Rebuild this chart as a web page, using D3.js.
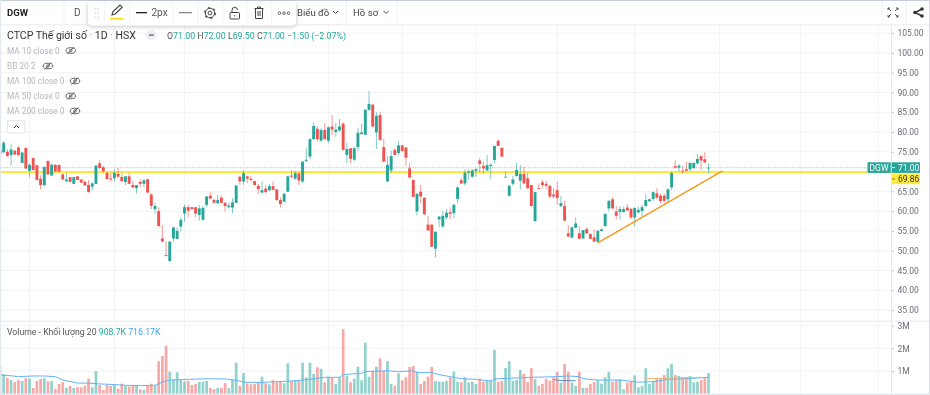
<!DOCTYPE html>
<html><head><meta charset="utf-8">
<script src="https://cdn.jsdelivr.net/npm/d3@7"></script>
<style>
html,body{margin:0;padding:0;background:#fff;overflow:hidden}
svg{display:block;filter:blur(.35px)}
text{font-family:Roboto,"Noto Sans",sans-serif}
</style></head><body><div id="c"></div>
<script>
const opens=[74.4,74.9,75.0,74.2,75.3,76.1,72.2,76.0,70.2,73.4,71.6,68.2,66.5,72.7,69.0,71.7,71.7,69.3,67.6,68.6,66.9,68.8,68.0,67.4,66.6,66.2,66.9,72.1,71.1,69.6,68.3,68.3,69.4,68.6,67.4,68.8,66.6,65.8,67.4,66.9,68.1,64.2,60.5,60.0,53.1,48.9,47.4,53.1,53.0,56.1,59.4,61.0,61.0,61.0,59.0,57.8,61.6,63.9,62.8,62.0,63.4,62.1,61.0,
60.9,62.1,68.7,67.5,68.8,68.2,67.6,66.4,64.7,65.7,65.3,66.3,65.5,62.8,62.4,64.9,69.0,68.2,69.5,67.5,72.7,73.8,78.2,80.8,77.8,80.5,77.8,81.4,80.0,80.4,82.1,74.2,75.9,73.0,76.2,79.5,79.3,85.6,86.9,79.9,84.3,76.2,67.5,70.3,75.5,74.7,76.6,76.1,70.8,67.9,59.9,64.9,63.4,
56.6,56.6,50.5,57.9,56.1,58.4,59.7,59.5,63.1,67.8,67.0,69.7,68.7,70.2,72.8,71.4,70.3,71.4,72.9,77.8,76.0,68.5,63.9,66.9,68.9,67.7,69.4,68.3,66.6,57.5,65.8,67.3,66.9,66.4,64.2,65.3,61.3,61.3,54.4,53.3,55.8,54.4,53.1,55.5,54.2,53.4,52.3,55.0,56.2,60.7,63.0,59.9,59.8,59.8,60.9,60.6,58.4,59.7,60.0,61.3,62.5,63.1,64.5,63.9,63.9,63.0,66.0,71.4,71.0,70.2,70.6,70.6,70.9,72.1,73.9,73.1,71.0];
const highs=[75.9,77.7,75.6,77.1,75.3,76.5,75.0,76.0,72.1,73.4,71.6,69.1,71.2,72.7,72.1,71.9,71.7,69.5,69.6,68.6,68.6,68.9,68.0,67.7,67.9,67.4,71.7,72.8,71.4,70.0,69.7,70.6,70.9,69.6,68.8,69.7,67.7,66.6,68.0,68.0,68.1,64.5,62.1,61.0,56.5,52.3,52.3,55.9,55.9,58.4,61.6,61.6,61.0,61.0,61.6,61.3,63.8,64.8,63.2,64.1,64.0,62.4,62.1,
63.3,66.5,69.0,70.4,69.0,69.0,67.7,66.9,67.5,66.6,66.8,67.5,65.6,63.5,64.5,69.0,70.4,70.2,70.0,72.7,75.9,78.4,82.4,81.4,81.0,82.2,81.4,84.3,82.2,83.3,82.5,77.2,75.9,76.3,81.1,82.2,85.8,90.4,87.1,85.0,85.0,78.3,73.8,75.3,75.7,77.6,76.7,76.2,72.1,67.9,64.5,66.6,63.4,
58.8,56.6,54.8,58.8,60.0,60.5,60.9,61.8,66.2,68.5,70.6,70.6,70.6,70.8,73.5,72.5,74.2,72.1,76.5,78.2,76.1,70.0,66.6,68.9,72.3,71.7,71.2,69.7,66.6,64.8,67.0,67.9,67.6,66.6,65.8,67.4,63.8,62.6,56.5,56.1,58.4,56.2,55.2,55.9,54.4,55.4,55.2,55.6,59.5,62.8,63.5,61.3,61.3,61.1,61.8,60.6,61.0,61.1,61.6,64.3,63.2,65.0,65.8,64.5,64.5,65.8,70.0,72.8,71.9,71.4,72.5,72.3,72.2,74.4,74.1,74.9,72.0];
const lows=[72.9,74.6,73.8,71.5,74.3,73.9,72.1,70.6,68.5,70.2,67.7,65.5,66.5,69.1,68.9,69.7,69.8,67.9,67.2,67.3,66.8,67.9,67.2,66.4,64.7,65.2,66.8,70.6,69.7,68.0,67.4,67.4,68.3,67.4,66.6,66.8,65.8,64.5,66.0,66.0,64.5,60.5,59.4,56.2,52.2,48.5,47.2,52.3,52.9,54.8,57.3,58.4,60.5,58.4,57.6,57.6,61.0,63.0,62.0,61.8,62.0,59.9,60.7,
59.5,62.1,66.6,66.6,67.1,67.5,66.5,64.3,64.5,64.5,65.0,65.2,62.6,60.9,62.3,64.8,68.3,68.0,66.6,67.1,72.4,73.2,78.0,77.6,77.6,78.0,77.2,79.3,78.8,80.1,75.3,72.1,72.1,72.7,75.2,79.3,79.3,85.4,81.2,75.7,77.8,72.4,67.5,69.6,74.1,74.1,75.0,71.4,68.3,63.6,58.9,62.0,59.0,
55.0,50.9,48.3,55.9,55.9,57.8,57.9,58.2,62.0,66.9,66.4,67.9,68.5,68.7,69.7,69.4,70.2,68.1,72.2,76.4,73.6,68.5,63.7,66.4,68.7,65.5,66.9,65.5,61.1,57.3,65.5,65.8,65.5,63.2,63.2,61.6,61.0,57.4,53.4,53.1,55.7,52.9,53.0,54.2,52.9,52.2,52.0,54.8,56.1,60.0,60.5,57.9,57.9,59.6,60.0,57.9,56.2,59.4,58.6,61.0,62.4,62.6,63.0,62.1,62.1,62.1,65.3,70.8,70.0,69.4,70.1,70.1,70.7,71.7,70.4,72.2,69.5];
const closes=[75.4,77.3,73.9,75.6,74.3,74.2,74.8,70.8,71.7,70.4,67.9,66.6,71.2,69.3,71.7,70.1,70.0,68.0,68.0,67.4,68.6,67.9,67.2,66.5,64.8,67.0,71.5,70.9,70.1,68.1,68.0,69.7,68.7,67.6,68.8,66.9,66.0,66.6,66.9,67.8,64.7,61.3,61.3,56.2,52.3,48.7,52.3,55.9,55.0,57.8,61.0,60.1,60.5,59.4,60.7,60.8,63.7,63.2,62.1,62.8,62.1,61.3,61.4,
62.2,66.5,67.5,69.6,68.2,67.9,66.6,65.6,65.3,64.8,66.3,65.4,62.8,61.8,64.4,68.8,68.7,69.6,67.7,72.5,73.0,78.2,81.5,78.2,80.5,78.2,81.2,80.6,80.6,81.4,75.5,75.7,73.2,75.9,79.8,79.9,85.6,87.1,81.4,84.1,78.0,72.5,71.7,73.9,74.2,76.6,75.2,73.5,68.5,63.6,64.4,63.7,59.2,
55.1,51.0,54.8,58.6,58.8,59.6,59.3,61.6,66.0,67.0,69.7,70.0,70.3,70.6,71.9,70.8,71.6,71.7,76.5,76.5,73.8,68.7,66.4,68.0,70.4,69.4,67.0,65.8,61.3,64.8,65.7,66.6,66.4,63.7,63.7,63.3,62.0,57.6,53.6,55.9,56.9,53.0,55.2,54.4,53.0,52.3,55.0,55.4,59.3,62.6,60.7,58.8,60.5,60.5,60.2,58.4,60.8,60.3,61.0,62.8,63.0,64.8,63.4,62.5,62.6,65.5,69.6,71.0,71.5,70.0,70.2,72.2,72.2,73.2,72.8,72.3,71.0];
const volumes=[1.22,.87,.69,.60,.51,.60,.56,.69,.66,.25,.56,.65,.68,.54,.56,.21,.43,.51,.26,.34,.25,.28,.28,.35,.66,.28,1.00,.38,.16,.38,.34,.38,.22,.44,.34,.31,.37,.37,.19,.16,.34,.44,.35,1.43,1.66,2.12,.97,.63,.94,.63,.54,.56,.38,.43,.51,.53,.56,.25,.19,.26,.26,.47,.24,.60,1.37,.34,.91,.46,.41,.43,.49,.75,.46,.41,.59,.50,.56,.46,1.34,.56,.60,.57,1.37,.72,
1.37,.87,1.16,1.10,.50,.75,.72,.43,.72,2.84,.79,.50,.66,1.19,.59,2.25,.75,1.01,1.19,1.56,1.01,1.44,.43,.35,.90,.59,.72,1.18,1.22,.97,.43,.56,.75,1.18,.56,.53,.53,.56,.72,.97,.53,.50,.72,.49,.53,.43,.66,.53,.59,.59,1.93,.53,.57,1.13,1.43,.57,.60,1.04,.87,.51,1.12,.65,.34,.43,.65,.57,.72,.96,.49,1.31,.96,.49,.34,.97,.26,.26,.43,.51,.60,.44,.72,.97,.53,.60,.63,
.19,.49,.53,.81,.28,.34,1.12,.43,.56,.69,.69,.82,1.12,1.31,.82,.78,.72,.72,.78,.50,.53,.60,.69,.91];
const maIndex=[0,3,5,9,12,15,17,21,24,27,31,34,38,42,44,46,51,56,61,64,66,70,75,79,84,88,92,93,98,99,105,108,112,113,117,119,122,125,129,133,134,138,144,151,154,157,158,162,168,173,177,181,186,192];
const maValues=[.82,.79,.75,.78,.78,.75,.60,.47,.46,.43,.40,.37,.35,.37,.51,.60,.63,.66,.65,.59,.51,.49,.53,.56,.63,.72,.72,.84,.90,.97,1.01,.97,1.01,.93,.93,.84,.75,.66,.63,.56,.65,.68,.72,.75,.78,.75,.66,.60,.60,.51,.53,.63,.66,.72];
const priceTicks=[35,40,45,50,55,60,65,70,75,80,85,90,95,100,105];
const hiddenPriceLabel=70;
const volumeTicks=[1,2,3];
const volumeTickLabels=["1M","2M","3M"];
const gridIndices=[8,31,50,66,89,109,129,151,172,195,217,238];
const lastClose=71.0, alertPrice=69.86;
const trendIndex=[162,195.8], trendPrice=[52.0,70.2];
const volBlueIndex=[150,152,156], volBlueValues=[.62,.58,.57];
const volOrangeIndex=[175,190], volOrangeValues=[.66,.72];
const indicatorLabels=["MA 10 close 0","BB 20 2","MA 100 close 0","MA 50 close 0","MA 200 close 0"];

const W=930,H=395,teal="#26a69a",red="#ef5350",grid="#f1f3f6";
const x=d3.scaleLinear().domain([0,192]).range([0,708.5]);
const y=d3.scaleLinear().domain([50,105]).range([250.7,33.1]);
const v=d3.scaleLinear().domain([0,3]).range([393.65,325.7]);
const svg=d3.select("#c").append("svg").attr("width",W).attr("height",H);
svg.append("rect").attr("width",W).attr("height",H).attr("fill","#fff");
const defs=svg.append("defs");
const sh=defs.append("filter").attr("id","sh").attr("x","-10%").attr("y","-30%").attr("width","120%").attr("height","170%");
sh.append("feDropShadow").attr("dx",0).attr("dy",1).attr("stdDeviation",2).attr("flood-color","#000").attr("flood-opacity",.25);

// grid
const g=svg.append("g");
g.selectAll(".gx").data(gridIndices).join("line").attr("x1",d=>x(d)).attr("x2",d=>x(d)).attr("y1",25).attr("y2",393).attr("stroke",grid);
g.selectAll(".gy").data(priceTicks).join("line").attr("x1",0).attr("x2",891).attr("y1",d=>y(d)).attr("y2",d=>y(d)).attr("stroke",grid);
g.selectAll(".gv").data(volumeTicks).join("line").attr("x1",0).attr("x2",891).attr("y1",d=>v(d)).attr("y2",d=>v(d)).attr("stroke",grid);
svg.append("rect").attr("x",0).attr("y",320.5).attr("width",W).attr("height",1.6).attr("fill","#eef0f3");
svg.append("line").attr("x1",891.5).attr("x2",891.5).attr("y1",25).attr("y2",394).attr("stroke","#e6e8ed");

// axes
function styleAxis(a){a.select(".domain").remove();a.selectAll("line").attr("stroke","#c4c7cf");a.selectAll("text").attr("fill","#6a6d78").style("font-size","8.5px").style("font-family","Roboto,sans-serif");}
svg.append("g").attr("transform","translate(891.5,0)").call(d3.axisRight(y).tickValues(priceTicks.filter(d=>d!==hiddenPriceLabel)).tickFormat(d3.format(".2f")).tickSize(2.5).tickPadding(3.5)).call(styleAxis);
svg.append("g").attr("transform","translate(891.5,0)").call(d3.axisRight(v).tickValues(volumeTicks).tickFormat((d,i)=>volumeTickLabels[i]).tickSize(2.5).tickPadding(3.5)).call(styleAxis);

// volume
const idx=d3.range(opens.length);
const col=i=>closes[i]>=opens[i]?teal:red;
svg.append("g").selectAll("rect").data(idx).join("rect")
 .attr("x",i=>x(i)-1.35).attr("width",2.7).attr("y",i=>v(volumes[i])).attr("height",i=>v(0)-v(volumes[i]))
 .attr("fill",col).attr("fill-opacity",.5);
const line=d3.line().x(d=>x(d[0])).y(d=>v(d[1]));
svg.append("path").attr("d",line(maIndex.map((d,i)=>[d,maValues[i]]))).attr("fill","none").attr("stroke","#64b5f6").attr("stroke-width",1);
svg.append("path").attr("d",line(volBlueIndex.map((d,i)=>[d,volBlueValues[i]]))).attr("fill","none").attr("stroke","#4f8fcf").attr("stroke-width",1);
svg.append("path").attr("d",line(volOrangeIndex.map((d,i)=>[d,volOrangeValues[i]]))).attr("fill","none").attr("stroke","#f5b66a").attr("stroke-width",1);

// price lines
svg.append("line").attr("x1",0).attr("x2",891).attr("y1",y(lastClose)).attr("y2",y(lastClose)).attr("stroke",teal).attr("stroke-opacity",.45).attr("stroke-width",1.3).attr("stroke-dasharray","1 1.4");
svg.append("line").attr("x1",0).attr("x2",891).attr("y1",y(alertPrice)).attr("y2",y(alertPrice)).attr("stroke","#fbe83c").attr("stroke-width",2.2);

// candles
const c=svg.append("g");
c.selectAll(".w").data(idx).join("line").attr("x1",x).attr("x2",x).attr("y1",i=>y(highs[i])).attr("y2",i=>y(lows[i])).attr("stroke",col).attr("stroke-opacity",.6).attr("stroke-width",1);
c.selectAll(".b").data(idx).join("rect").attr("x",i=>x(i)-1.45).attr("width",2.9)
 .attr("y",i=>y(Math.max(opens[i],closes[i]))).attr("height",i=>Math.max(.8,Math.abs(y(opens[i])-y(closes[i])))).attr("fill",col);

// trend
svg.append("line").attr("x1",x(trendIndex[0])).attr("y1",y(trendPrice[0])).attr("x2",x(trendIndex[1])).attr("y2",y(trendPrice[1])).attr("stroke","#f79a1f").attr("stroke-width",1.5);

// tags
svg.append("rect").attr("x",867.5).attr("y",162.3).attr("width",23.2).attr("height",10.6).attr("fill",teal);
svg.append("rect").attr("x",891.7).attr("y",162.3).attr("width",28.3).attr("height",10.6).attr("fill",teal);
svg.append("rect").attr("x",891.7).attr("y",174).attr("width",28.3).attr("height",10.2).attr("fill","#fdea3c");
svg.append("line").attr("x1",892).attr("x2",895).attr("y1",167.6).attr("y2",167.6).attr("stroke","#d9f0ed");
svg.append("line").attr("x1",892).attr("x2",895).attr("y1",179).attr("y2",179).attr("stroke","#8a8426");
const T=(s,px,py,size,fill,weight,anchor)=>svg.append("text").attr("x",px).attr("y",py).attr("font-size",size).attr("fill",fill).attr("font-weight",weight||400).attr("text-anchor",anchor||"start").text(s);
T("DGW",879,171,8.5,"#fff",400,"middle");
T(d3.format(".2f")(lastClose),898,171,8.5,"#fff");
T(d3.format(".2f")(alertPrice),898,182.3,8.5,"#333");

// header chrome
svg.append("rect").attr("width",W).attr("height",24).attr("fill","#fff");
svg.append("rect").attr("y",23.8).attr("width",W).attr("height",1.6).attr("fill","#eef1f7");
svg.append("rect").attr("width",W).attr("height",1).attr("fill","#c5ced9");
svg.append("rect").attr("x",929).attr("width",1).attr("height",H).attr("fill","#d5dbe3");
svg.append("rect").attr("y",393.8).attr("width",W).attr("height",1.2).attr("fill","#dfe3ea");
svg.append("rect").attr("width",1).attr("height",H).attr("fill","#e3e7f0");
[64,346.5,397,882,906].forEach(p=>svg.append("line").attr("x1",p).attr("x2",p).attr("y1",1).attr("y2",24).attr("stroke","#eef0f3"));
T("DGW",7,16,9.5,"#222",700);
T("D",74,16,10,"#555");
T("Biểu đồ",297,16,9.6,"#444");
T("Hồ sơ",353,16,9.6,"#444");
const stroke=(d,col,w)=>svg.append("path").attr("d",d).attr("fill","none").attr("stroke",col||"#444").attr("stroke-width",w||1);
stroke("M333 11l2.5 2.5l2.5-2.5");stroke("M383.5 11l2.5 2.5l2.5-2.5");

// floating toolbar
svg.append("rect").attr("x",88).attr("y",1.5).attr("width",208).attr("height",24).attr("rx",4).attr("fill","#fff").attr("filter","url(#sh)");
[104.5,129.5,173,198,223,247,271.5].forEach(p=>svg.append("line").attr("x1",p).attr("x2",p).attr("y1",2).attr("y2",25).attr("stroke","#f2f3f5"));
[[95,9],[98,9],[95,13],[98,13],[95,17],[98,17]].forEach(p=>svg.append("circle").attr("cx",p[0]).attr("cy",p[1]).attr("r",.6).attr("fill","#aaa"));
stroke("M112 15l1-3.5l7-6.5l2.2 2.2l-7 6.8z","#444",1.1);
svg.append("rect").attr("x",110).attr("y",17.8).attr("width",13.5).attr("height",2).attr("fill","#fbe427");
svg.append("rect").attr("x",136).attr("y",12).attr("width",11).attr("height",1.3).attr("fill","#222");
T("2px",151.5,16,10,"#555");
svg.append("rect").attr("x",179).attr("y",12).attr("width",13).attr("height",1.3).attr("fill","#888");
svg.append("circle").attr("cx",210).attr("cy",13).attr("r",1.9).attr("fill","none").attr("stroke","#444");
svg.append("circle").attr("cx",210).attr("cy",13).attr("r",4.7).attr("fill","none").attr("stroke","#444");
svg.append("circle").attr("cx",210).attr("cy",13).attr("r",5.4).attr("fill","none").attr("stroke","#444").attr("stroke-width",1.2).attr("stroke-dasharray","2.2 3.45");
svg.append("rect").attr("x",230).attr("y",12.5).attr("width",9.5).attr("height",6.5).attr("rx",1).attr("fill","none").attr("stroke","#444");
stroke("M232 12.5v-2.5a2.7 2.7 0 0 1 5.4 0");
stroke("M234.7 15v1.5");
stroke("M254.5 8.5h9M257.5 8.5v-1.5h3v1.5M255.5 8.5v10h7v-10M258 11v5M260 11v5");
[279.5,284,288.5].forEach(p=>svg.append("circle").attr("cx",p).attr("cy",13.2).attr("r",1.3).attr("fill","none").attr("stroke","#444").attr("stroke-width",.8));

// fullscreen & share
stroke("M888 8l3 3M888 8h2M888 8v2M898 8l-3 3M898 8h-2M898 8v2M888 17l3-3M888 17h2M888 17v-2M898 17l-3-3M898 17h-2M898 17v-2","#444",.9);
stroke("M922 9l-7 3.5l7 3.5","#333",1.4);
[[922,9],[915,12.5],[922,16]].forEach(p=>svg.append("circle").attr("cx",p[0]).attr("cy",p[1]).attr("r",1.8).attr("fill","#333"));

// legend
const title=svg.append("text").attr("x",7).attr("y",38.5).attr("font-size",10.5).attr("fill","#333");
title.append("tspan").text("CTCP Thế giới số");
title.append("tspan").attr("fill","#aaa").text(" · ");
title.append("tspan").text("1D");
title.append("tspan").attr("fill","#aaa").text(" · ");
title.append("tspan").text("HSX");
svg.append("circle").attr("cx",151.3).attr("cy",35).attr("r",5.3).attr("fill","#eceef1");
svg.append("rect").attr("x",149).attr("y",34.5).attr("width",4.8).attr("height",1.2).attr("fill","#555");
const q=svg.append("text").attr("x",167).attr("y",39).attr("font-size",8.8).attr("fill",teal);
[["O","71.00"],["H","72.00"],["L","69.50"],["C","71.00"]].forEach(p=>{q.append("tspan").attr("fill","#555").text(p[0]);q.append("tspan").text(p[1]+"  ");});
q.append("tspan").text("−1.50 (−2.07%)");
const legY=[50.5,66,81,96,111], eyeX=[70.7,48,75,70.7,75];
indicatorLabels.forEach((t,i)=>{
 T(t,7,legY[i]+3,8.3,"#b4b7bf");
 const e=eyeX[i],yy=legY[i];
 svg.append("ellipse").attr("cx",e).attr("cy",yy).attr("rx",4.8).attr("ry",2.8).attr("fill","none").attr("stroke","#555").attr("stroke-width",.9);
 svg.append("circle").attr("cx",e).attr("cy",yy).attr("r",1.3).attr("fill","none").attr("stroke","#555").attr("stroke-width",.8);
 stroke(`M${e-3.5} ${yy+3.5}L${e+3.5} ${yy-3.5}`,"#555",.9);
});
svg.append("rect").attr("x",7.5).attr("y",120.5).attr("width",17.5).attr("height",12.5).attr("rx",1.5).attr("fill","#fff").attr("stroke","#e2e4e9");
stroke("M14 128l2.5-2.5l2.5 2.5","#333",1);
const vt=svg.append("text").attr("x",7).attr("y",335).attr("font-size",8.7).attr("fill","#555");
vt.append("tspan").text("Volume - Khối lượng 20  ");
vt.append("tspan").attr("fill",teal).text("908.7K  ");
vt.append("tspan").attr("fill","#42a5f5").text("716.17K");
</script></body></html>
